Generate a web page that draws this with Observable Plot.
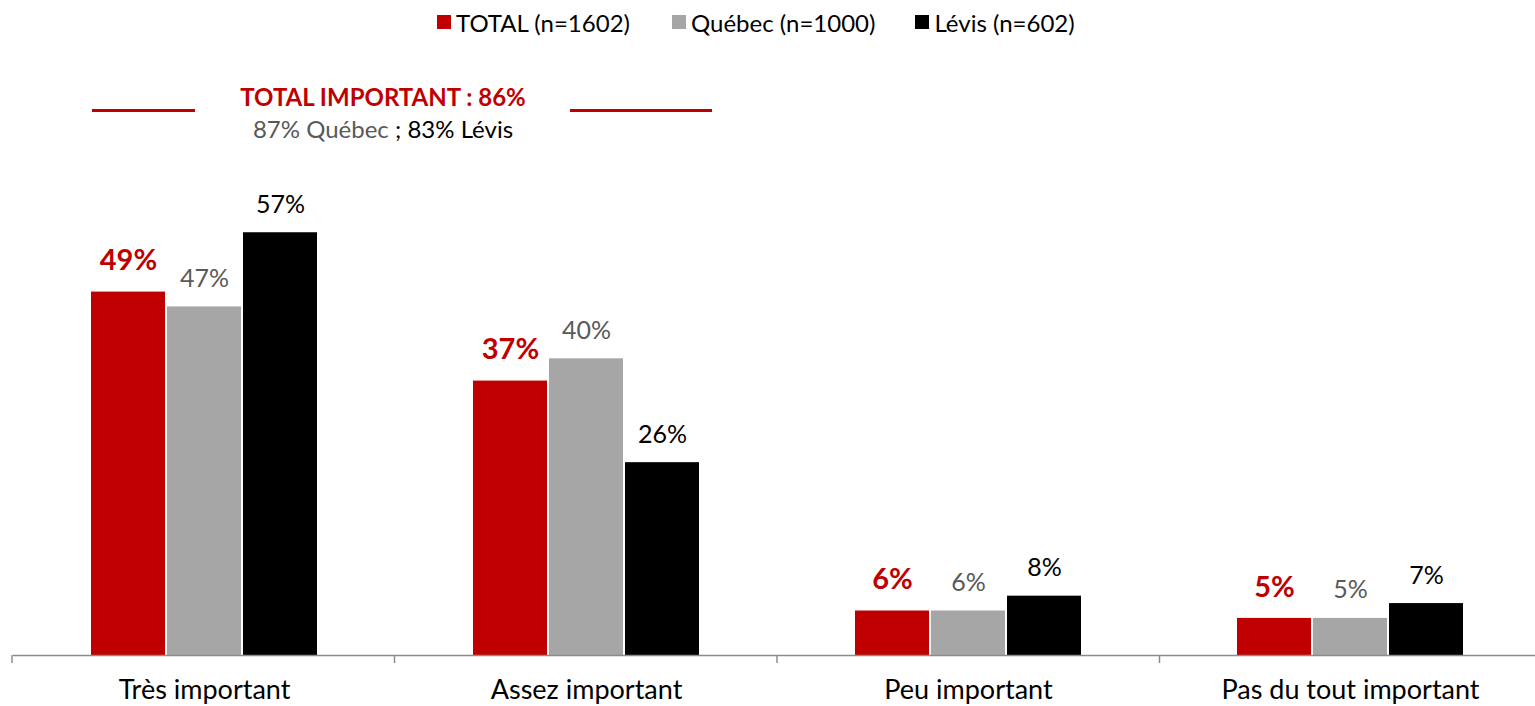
<!DOCTYPE html>
<html>
<head>
<meta charset="utf-8">
<script src="https://cdn.jsdelivr.net/npm/d3@7"></script>
<script src="https://cdn.jsdelivr.net/npm/@observablehq/plot@0.6"></script>
<style>
  html, body { margin: 0; padding: 0; background: #fff; }
  body { font-family: Lato, "Open Sans", sans-serif; }
  #wrap { position: relative; width: 1535px; height: 706px; overflow: hidden; }
  #legend { position: absolute; left: 437px; top: 0; height: 44px; display: flex; align-items: center; font-size: 24px; color: #000; white-space: nowrap; }
  .item { display: flex; align-items: center; }
  .sw { width: 14px; height: 14px; margin-right: 5px; }
  #chart { position: absolute; left: 0; top: 44px; width: 1600px; }
  #chart svg { max-width: none !important; }
  .rline { position: absolute; height: 3px; background: #C00000; top: 109px; }
  #annot { position: absolute; left: 133px; width: 500px; top: 81px; text-align: center; font-size: 24px; line-height: 32px; }
  #annot .t1 { color: #C00000; font-weight: bold; font-size: 24px; }
</style>
</head>
<body>
<div id="wrap">
  <div id="legend"></div>
  <div id="chart"></div>
  <div class="rline" style="left:92px;width:103px"></div>
  <div class="rline" style="left:570px;width:142px"></div>
  <div id="annot"></div>
</div>
<script>
// ---- data ----
const categories = ["Très important", "Assez important", "Peu important", "Pas du tout important"];
const series = ["TOTAL", "Québec", "Lévis"];
const seriesLegend = ["TOTAL (n=1602)", "Québec (n=1000)", "Lévis (n=602)"];
const totalValues = [49, 37, 6, 5];
const quebecValues = [47, 40, 6, 5];
const levisValues = [57, 26, 8, 7];
const barColors = ["#C00000", "#A6A6A6", "#000000"];
const labelColors = ["#C00000", "#595959", "#000000"];
const annotTitle = "TOTAL IMPORTANT : 86%";
const annotQuebec = "87% Québec";
const annotLevis = "83% Lévis";

const valuesBySeries = [totalValues, quebecValues, levisValues];
const data = [];
categories.forEach((c, i) => {
  series.forEach((s, j) => {
    data.push({cat: c, series: s, value: valuesBySeries[j][i]});
  });
});

// ---- legend ----
const legend = document.getElementById("legend");
const legendGaps = [42, 40, 0];
seriesLegend.forEach((t, j) => {
  const it = document.createElement("div");
  it.className = "item";
  it.style.marginRight = legendGaps[j] + "px";
  const sw = document.createElement("div");
  sw.className = "sw";
  sw.style.background = barColors[j];
  const tx = document.createElement("span");
  tx.textContent = t;
  it.appendChild(sw); it.appendChild(tx);
  legend.appendChild(it);
});

// ---- annotation ----
const annot = document.getElementById("annot");
annot.innerHTML = `<div class="t1">${annotTitle}</div><div><span style="color:#595959">${annotQuebec}</span> ; <span style="color:#000">${annotLevis}</span></div>`;

// ---- chart ----
const totalData = data.filter(d => d.series === series[0]);
const otherData = data.filter(d => d.series !== series[0]);

const W = 1542, H = 662, MB = 51;
const chart = Plot.plot({
  width: W,
  height: H,
  marginLeft: 12,
  marginRight: 0,
  marginTop: 166,
  marginBottom: MB,
  style: {fontFamily: "Lato, 'Open Sans', sans-serif", background: "#fff", maxWidth: "none"},
  fx: {domain: categories, padding: 0, label: null},
  x: {domain: series, paddingInner: 0.0263, paddingOuter: 1.02, axis: null},
  y: {domain: [0, 60], axis: null},
  color: {domain: series, range: barColors},
  marks: [
    Plot.barY(data, {fx: "cat", x: "series", y: "value", fill: "series"}),
    Plot.ruleY([0], {stroke: "#8C8C8C", strokeWidth: 1.5}),
    Plot.text(totalData, {fx: "cat", x: "series", y: "value", text: d => d.value + "%", dy: -31, fill: labelColors[0], fontWeight: "bold", fontSize: 29}),
    Plot.text(otherData, {fx: "cat", x: "series", y: "value", text: d => d.value + "%", dy: -28, fill: d => labelColors[series.indexOf(d.series)], fontSize: 25}),
    Plot.axisFx({anchor: "bottom", tickSize: 0, tickPadding: 24, fontSize: 27, label: null, color: "#000"})
  ]
});
document.getElementById("chart").appendChild(chart);

// boundary tick marks on the category axis (left edge of each category band), from Plot's fx scale
const fxs = chart.scale("fx");
const band = d3.scaleBand().domain(fxs.domain).range(fxs.range).padding(0);
const svg = d3.select(chart.tagName === "svg" ? chart : chart.querySelector("svg"));
const y0 = H - MB;
const bounds = fxs.domain.map(d => band(d));
svg.append("g").selectAll("line").data(bounds).join("line")
  .attr("x1", d => d).attr("x2", d => d)
  .attr("y1", y0).attr("y2", y0 + 8)
  .attr("stroke", "#8C8C8C").attr("stroke-width", 1.5);
</script>
</body>
</html>
